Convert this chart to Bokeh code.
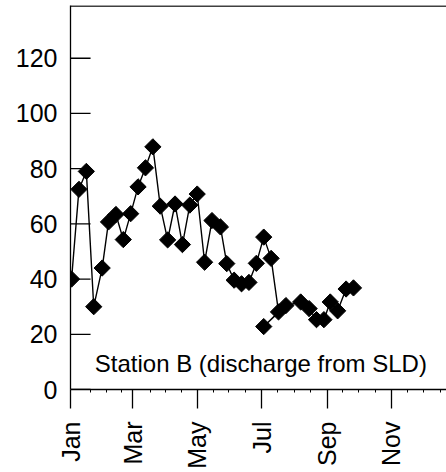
import math
from bokeh.plotting import figure
from bokeh.models import Range1d, FixedTicker, ColumnDataSource, Label
from bokeh.embed import file_html
from bokeh.resources import INLINE

# day of year (Jan 1 = 0) and discharge values, in sampling order
days = [1, 8, 15, 22, 30, 36, 43, 50, 57, 64, 71, 78, 85, 92, 99, 106, 113, 120,
        127, 134, 142, 148, 155, 162, 169, 176, 183, 190, 197, 183, 204, 218, 226,
        233, 240, 246, 253, 261, 268]
values = [40, 72.5, 79, 30, 44, 60.7, 63.4, 54.3, 63.7, 73.4, 80.3, 87.9, 66.4, 54.2,
          67.2, 52.5, 66.8, 70.8, 46.1, 61.2, 58.9, 45.6, 39.6, 38.3, 38.8, 45.7, 55.2,
          47.5, 28.1, 22.8, 30.4, 31.7, 29.3, 25.3, 25.3, 31.7, 28.5, 36.4, 36.8]

month_ticks = [0, 59, 120, 181, 243, 304]
month_labels = ["Jan", "Mar", "May", "Jul", "Sep", "Nov"]
minor_days = [19, 34, 48, 76, 90, 105, 135, 150, 166, 196, 212, 227, 258, 273, 289, 319, 334, 350]
y_ticks = [0, 20, 40, 60, 80, 100, 120]
annotation = "Station B (discharge from SLD)"

X_END = 356.1
Y_END = 139.1
TICK_LEN_DAYS = 19.0  # 20 px inward tick length expressed in x units
FONT = "Liberation Sans"

p = figure(width=446, height=472, output_backend="svg", toolbar_location=None,
           x_range=Range1d(0, X_END), y_range=Range1d(0, Y_END),
           min_border_left=70, min_border_right=0, min_border_top=5, min_border_bottom=83)
p.outline_line_color = None
p.grid.visible = False
p.background_fill_color = "white"
p.border_fill_color = "white"

# inward y ticks
p.segment(x0=[0] * len(y_ticks), y0=y_ticks, x1=[TICK_LEN_DAYS] * len(y_ticks), y1=y_ticks,
          line_color="black", line_width=1.3)
# top border
p.segment(x0=[0], y0=[Y_END - 0.2], x1=[X_END], y1=[Y_END - 0.2],
          line_color="black", line_width=1.4)

src = ColumnDataSource(dict(x=days, y=values))
p.line("x", "y", source=src, line_color="black", line_width=1.4)
p.scatter("x", "y", source=src, marker="square", size=11.5, angle=math.pi / 4,
          fill_color="black", line_color="black")

xa = p.xaxis[0]
xa.ticker = FixedTicker(ticks=month_ticks, minor_ticks=minor_days)
xa.major_label_overrides = {t: l for t, l in zip(month_ticks, month_labels)}
xa.major_label_orientation = math.pi / 2
xa.major_tick_in = 0
xa.major_tick_out = 19
xa.minor_tick_in = 0
xa.minor_tick_out = 3
xa.major_label_standoff = 13
xa.major_label_text_font = FONT
xa.major_label_text_font_size = "25px"
xa.major_label_text_color = "black"
xa.axis_line_color = "black"
xa.axis_line_width = 1.3
xa.major_tick_line_color = "black"
xa.major_tick_line_width = 1.3
xa.minor_tick_line_color = "black"

ya = p.yaxis[0]
ya.ticker = FixedTicker(ticks=y_ticks, minor_ticks=[])
ya.major_tick_in = 0
ya.major_tick_out = 0
ya.minor_tick_in = 0
ya.minor_tick_out = 0
ya.major_label_standoff = 13
ya.major_label_text_font = FONT
ya.major_label_text_font_size = "25px"
ya.major_label_text_color = "black"
ya.axis_line_color = "black"
ya.axis_line_width = 1.3

p.add_layout(Label(x=23, y=9.4, text=annotation, text_font=FONT, text_font_size="24px",
                   text_color="black", text_align="left", text_baseline="alphabetic"))

open("out.html", "w").write(file_html(p, INLINE))
